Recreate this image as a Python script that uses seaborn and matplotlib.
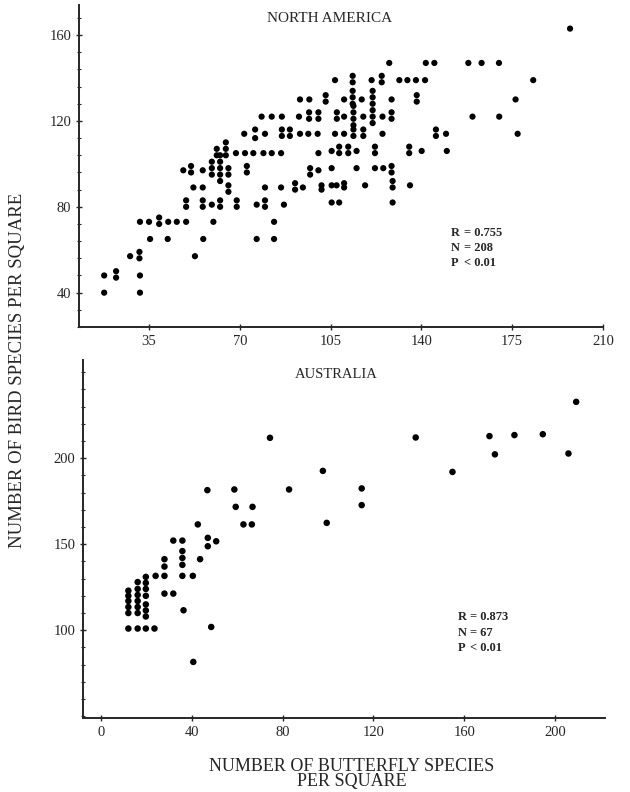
import numpy as np
import matplotlib
matplotlib.use("Agg")
import matplotlib.pyplot as plt
from matplotlib.ticker import MultipleLocator
import seaborn as sns

# --- data ---------------------------------------------------------------
# North America: butterfly species vs bird species per square (rows of dots)
na_butterfly = [
    17.7, 31.5,
    17.7, 22.3, 22.3, 31.5,
    27.7, 31.3, 31.3, 52.7,
    35.4, 42.2, 55.9, 76.5, 83.2,
    31.5, 35.0, 38.9, 38.9, 42.4, 45.7, 49.3, 59.8, 83.2,
    49.3, 49.3, 55.7, 55.7, 59.2, 62.4, 62.4, 68.8, 68.8, 76.5, 79.7, 79.7, 87.0, 105.4, 108.3, 128.9,
    52.1, 55.7, 65.6, 65.6, 79.7, 85.9, 91.3, 91.3, 94.3, 101.5, 101.5, 105.4, 107.3, 110.2, 110.2,
    118.3, 128.9, 128.9, 135.6,
    48.2, 51.2, 51.2, 55.7, 59.2, 59.2, 59.2, 62.4, 62.4, 62.4, 62.4, 62.4, 65.6, 65.6, 72.7, 72.7,
    97.1, 97.1, 100.3, 105.4, 115.0, 122.1, 125.3, 128.5, 128.5,
    61.1, 61.1, 64.6, 64.6, 64.6, 68.5, 72.0, 75.2, 79.1, 82.3, 85.9, 100.3, 105.4, 108.3, 108.3,
    111.8, 111.8, 115.0, 122.1, 122.1, 135.3, 135.3, 140.1, 149.8,
    71.7, 75.9, 75.9, 79.7, 86.2, 86.2, 89.3, 89.3, 93.2, 96.4, 100.0, 106.7, 110.2, 113.8, 113.8,
    117.6, 117.6, 125.0, 145.6, 145.6, 149.5, 177.1,
    78.4, 82.3, 86.2, 92.8, 96.7, 96.7, 100.3, 100.3, 107.4, 107.4, 110.2, 113.8, 113.8, 113.8, 113.8,
    117.6, 121.2, 121.2, 121.2, 125.0, 128.5, 128.5, 159.7, 170.0,
    93.2, 96.8, 103.1, 103.1, 110.2, 113.5, 113.5, 113.5, 117.0, 121.2, 121.2, 121.2, 128.5,
    138.2, 138.2, 176.3,
    106.7, 113.5, 113.5, 120.8, 124.7, 124.7, 131.5, 134.6, 137.9, 141.4, 183.1,
    127.6, 141.7, 145.0, 158.1, 163.2, 169.9,
    197.3,
]
na_birds = [
    40, 40,
    48, 47, 50, 48,
    57, 56, 59, 57,
    65, 65, 65, 65, 65,
    73, 73, 72, 75, 73, 73, 73, 73, 73,
    80, 83, 80, 83, 81, 80, 83, 80, 83, 81, 80, 83, 81, 82, 82, 82,
    89, 89, 87, 90, 89, 89, 88, 91, 89, 88, 90, 90, 90, 89, 91,
    90, 89, 92, 90,
    97, 96, 99, 97, 95, 98, 101, 92, 95, 98, 101, 104, 95, 98, 96, 99,
    95, 98, 97, 98, 98, 98, 98, 96, 99,
    104, 107, 104, 107, 110, 105, 105, 105, 105, 105, 105, 105, 106, 105, 108,
    105, 108, 106, 105, 108, 105, 108, 106, 106,
    114, 112, 116, 114, 113, 116, 113, 116, 114, 114, 114, 114, 114, 113, 116,
    113, 116, 114, 113, 116, 114, 114,
    122, 122, 122, 122, 121, 124, 121, 124, 121, 124, 122, 118, 121, 124, 127,
    122, 119, 122, 125, 122, 121, 124, 122, 122,
    130, 130, 129, 132, 130, 128, 131, 134, 130, 128, 131, 134, 130,
    129, 132, 130,
    139, 138, 141, 139, 138, 141, 139, 139, 139, 139, 139,
    147, 147, 147, 147, 147, 147,
    163,
]

# Australia
au_butterfly = [
    97.7, 99.4, 114.8, 114.8, 138.6, 154.8, 171.1, 173.5, 182.1, 194.6, 205.9, 209.3,
    74.4, 82.8,
    46.8, 58.7, 59.3, 66.7, 62.7, 66.4, 42.6, 47.0, 47.0, 50.7, 31.8, 35.8,
    35.8, 35.8, 35.8, 43.6, 27.9, 27.9, 27.9, 24.0, 35.8, 40.4, 27.9, 31.8, 36.3, 48.5, 40.6,
    12.0, 16.1, 19.7, 23.5,
    12.0, 12.0, 12.0, 12.0, 12.0,
    16.1, 16.1, 16.1, 16.1, 16.1, 16.1,
    19.7, 19.7, 19.7, 19.7, 19.7, 19.7, 19.7,
]
au_birds = [
    192.6, 162.4, 182.4, 172.7, 212.0, 192.0, 212.8, 202.2, 213.4, 213.9, 202.7, 232.7,
    211.8, 181.8,
    181.4, 181.8, 171.7, 171.7, 161.5, 161.5, 161.5, 153.7, 148.8, 151.7, 152.1, 152.1,
    146.0, 142.0, 138.0, 141.3, 141.3, 137.0, 131.6, 131.6, 131.6, 131.6, 121.3, 121.3, 111.6, 101.9, 81.6,
    101.0, 101.0, 101.0, 101.0,
    110.0, 113.5, 117.0, 120.0, 123.0,
    110.0, 113.5, 117.0, 120.5, 124.0, 128.0,
    108.0, 111.5, 115.0, 120.0, 124.0, 127.5, 131.0,
]

na_stats = [("R", "= 0.755"), ("N", "= 208"), ("P", "< 0.01")]
au_stats = [("R", "= 0.873"), ("N", "= 67"), ("P", "< 0.01")]

# --- style ----------------------------------------------------------------
sns.set_style("ticks")
plt.rcParams["font.family"] = ["Liberation Serif", "DejaVu Serif"]
plt.rcParams["axes.linewidth"] = 1.4

fig = plt.figure(figsize=(6.3, 7.92), dpi=100)
ax1 = fig.add_axes([0.1254, 0.5871, 0.8317, 0.4066])
ax2 = fig.add_axes([0.1317, 0.0934, 0.8286, 0.4520])

# top panel
sns.scatterplot(x=na_butterfly, y=na_birds, ax=ax1, color="black", s=20,
                edgecolor="none", legend=False)
ax1.set_xlim(8, 210)
ax1.set_ylim(24, 174)
ax1.set_xticks([35, 70, 105, 140, 175, 210])
ax1.set_yticks([40, 80, 120, 160])
ax1.yaxis.set_minor_locator(MultipleLocator(8))

# bottom panel
sns.scatterplot(x=au_butterfly, y=au_birds, ax=ax2, color="black", s=22,
                edgecolor="none", legend=False)
ax2.set_xlim(-8, 222)
ax2.set_ylim(49, 257)
ax2.set_xticks([0, 40, 80, 120, 160, 200])
ax2.set_yticks([100, 150, 200])
ax2.yaxis.set_minor_locator(MultipleLocator(10))

for ax in (ax1, ax2):
    sns.despine(ax=ax)
    ax.tick_params(axis="both", which="major", direction="inout", length=5,
                   width=1, labelsize=10.5, pad=3)
    ax.tick_params(axis="y", which="minor", direction="inout", length=3, width=0.8)
    ax.set_xlabel("")
    ax.set_ylabel("")

# stats boxes
for i, (k, v) in enumerate(na_stats):
    ax1.text(151.5, 68 - 7 * i, k, fontsize=9, fontweight="bold", va="center")
    ax1.text(156.5, 68 - 7 * i, v, fontsize=9, fontweight="bold", va="center")
for i, (k, v) in enumerate(au_stats):
    ax2.text(157, 107.5 - 9 * i, k, fontsize=9, fontweight="bold", va="center")
    ax2.text(162.5, 107.5 - 9 * i, v, fontsize=9, fontweight="bold", va="center")

fig.text(330 / 630, 1 - 18 / 792, "NORTH AMERICA", ha="center", va="center", fontsize=11)
fig.text(336 / 630, 1 - 375 / 792, "AUSTRALIA", ha="center", va="center", fontsize=10.5)
fig.text(18 / 630, 1 - 370 / 792, "NUMBER OF BIRD SPECIES PER SQUARE", rotation=90,
         ha="center", va="center", fontsize=13.5)
fig.text(352 / 630, 1 - 774 / 792, "NUMBER OF BUTTERFLY SPECIES\nPER SQUARE",
         ha="center", va="center", fontsize=13, linespacing=0.85)

fig.savefig("out.png", dpi=100)
